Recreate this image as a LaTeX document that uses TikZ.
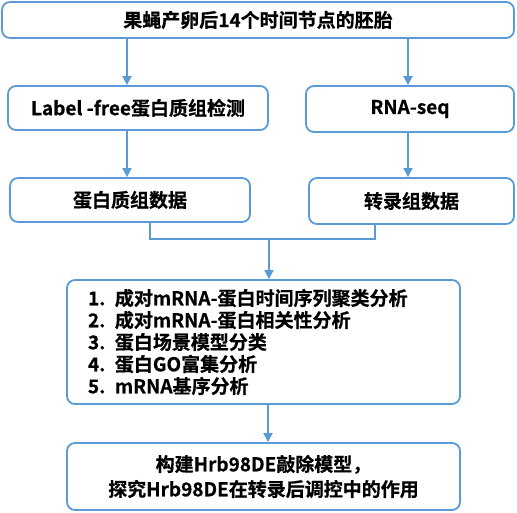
\documentclass[tikz,border=0pt]{standalone}
\usepackage{fontspec}
\setmainfont{Noto Sans CJK SC Bold}[FakeBold=0.6]
\usetikzlibrary{arrows.meta}
\definecolor{bl}{HTML}{5B9BD5}
\begin{document}
\begin{tikzpicture}[x=1pt,y=-1pt,
  bx/.style={draw=bl,line width=1.8pt,rounded corners=8pt,inner sep=0pt,font=\fontsize{19}{22}\selectfont},
  ar/.style={draw=bl,line width=1.8pt,-{Triangle[width=9pt,length=9pt]}},
  ln/.style={draw=bl,line width=1.8pt}]
\useasboundingbox (0,0) rectangle (517,513);
\node[bx,minimum width=512pt,minimum height=36pt] (top) at (258,20) {果蝇产卵后14个时间节点的胚胎};
\node[bx,minimum width=260pt,minimum height=44pt] (lf) at (138,108) {Label -free蛋白质组检测};
\node[bx,minimum width=208pt,minimum height=46pt] (rna) at (410,109) {RNA-seq};
\node[bx,minimum width=240pt,minimum height=44pt] (pd) at (130,200) {蛋白质组数据};
\node[bx,minimum width=205pt,minimum height=46pt] (td) at (411.5,201) {转录组数据};
\node[bx,minimum width=393pt,minimum height=124pt,align=left,text width=351pt] (ana) at (263.5,342) {1. 成对mRNA-蛋白时间序列聚类分析\\2. 成对mRNA-蛋白相关性分析\\3. 蛋白场景模型分类\\4. 蛋白GO富集分析\\5. mRNA基序分析};
\node[bx,minimum width=393pt,minimum height=67pt,align=center,font=\fontsize{19}{25}\selectfont] (ko) at (263.5,476.5) {构建Hrb98DE敲除模型，\\探究Hrb98DE在转录后调控中的作用};
\draw[ar] (top.south -| 127,0) -- (lf.north -| 127,0);
\draw[ar] (top.south -| 408,0) -- (rna.north -| 408,0);
\draw[ar] (lf.south -| 127,0) -- (pd.north -| 127,0);
\draw[ar] (rna.south -| 408,0) -- (td.north -| 408,0);
\coordinate (j) at (269,239);
\draw[ln] (pd.south -| 150,0) |- (j) -| (td.south -| 375,0);
\draw[ar] (j) -- (ana.north -| j);
\draw[ar] (ana.south -| 268,0) -- (ko.north -| 268,0);
\end{tikzpicture}
\end{document}
